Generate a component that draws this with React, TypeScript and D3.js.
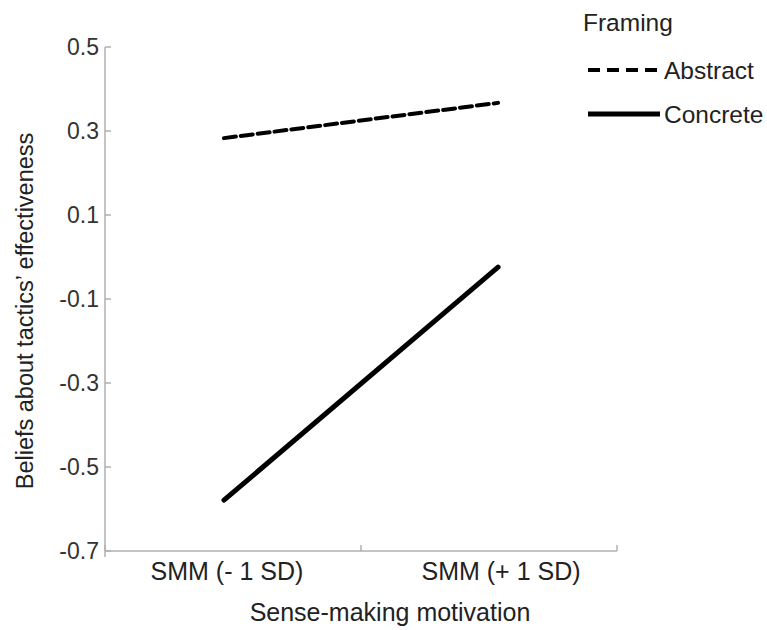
import React from 'react';
import * as d3 from 'd3';

const categories = ['SMM (- 1 SD)', 'SMM (+ 1 SD)'];
const abstractValues = [0.283, 0.367];
const concreteValues = [-0.579, -0.024];
const yTicks = [0.5, 0.3, 0.1, -0.1, -0.3, -0.5, -0.7];
const seriesNames = ['Abstract', 'Concrete'];

const W = 767;
const H = 630;
const left = 105;
const right = 617;
const top = 47;
const bottom = 551;
const font = '"Liberation Sans", Arial, sans-serif';

export default function App() {
  const x = d3.scalePoint<string>().domain(categories).range([left, right]).padding(0.434);
  const band = d3.scaleBand<string>().domain(categories).range([left, right]);
  const y = d3.scaleLinear().domain([-0.7, 0.5]).range([bottom, top]);

  const line = d3.line<number>()
    .x((_, i) => x(categories[i]) as number)
    .y(d => y(d));

  const series = [
    { name: seriesNames[0], values: abstractValues, dash: '12,5', width: 4 },
    { name: seriesNames[1], values: concreteValues, dash: null, width: 5 },
  ];

  const xTicks = [left, ...categories.slice(1).map(c => band(c) as number), right];

  return (
    <svg width={W} height={H} style={{ position: 'absolute', left: 0, top: 0, background: '#fff' }}>
      {/* y axis */}
      <line x1={left} x2={left} y1={top} y2={bottom + 6} stroke="#b0b0b0" strokeWidth={1.5} />
      {yTicks.map(t => (
        <g key={t}>
          <line x1={left} x2={left + 6} y1={y(t)} y2={y(t)} stroke="#b0b0b0" strokeWidth={1.5} />
          <text x={left - 6} y={y(t)} dy="0.36em" textAnchor="end" fontFamily={font} fontSize={23} fill="#333">
            {t.toFixed(1)}
          </text>
        </g>
      ))}
      {/* x axis */}
      <line x1={left} x2={right} y1={bottom} y2={bottom} stroke="#b0b0b0" strokeWidth={1.5} />
      {xTicks.map((t, i) => (
        <line key={i} x1={t} x2={t} y1={bottom - 6} y2={bottom} stroke="#b0b0b0" strokeWidth={1.5} />
      ))}
      {categories.map(c => (
        <text key={c} x={(x(c) as number) + 3} y={580} textAnchor="middle" fontFamily={font} fontSize={25} fill="#222">
          {c}
        </text>
      ))}
      <text x={390} y={621} textAnchor="middle" fontFamily={font} fontSize={25} fill="#222">
        Sense-making motivation
      </text>
      <text transform={`translate(33,311) rotate(-90)`} textAnchor="middle" fontFamily={font} fontSize={23.5} fill="#222">
        Beliefs about tactics’ effectiveness
      </text>

      {/* lines */}
      {series.map(s => (
        <path key={s.name} d={line(s.values) as string} fill="none" stroke="#000" strokeWidth={s.width}
          strokeDasharray={s.dash ?? undefined} strokeLinecap="round" />
      ))}

      {/* legend */}
      <text x={583} y={31} fontFamily={font} fontSize={24.5} fill="#222">Framing</text>
      {series.map((s, i) => (
        <g key={s.name} transform={`translate(0,${70 + i * 44})`}>
          <line x1={588} x2={660} y1={0} y2={0} stroke="#000" strokeWidth={s.width}
            strokeDasharray={s.dash ? '12,7' : undefined} />
          <text x={664} y={0} dy="0.36em" fontFamily={font} fontSize={24.5} fill="#222">{s.name}</text>
        </g>
      ))}
    </svg>
  );
}
